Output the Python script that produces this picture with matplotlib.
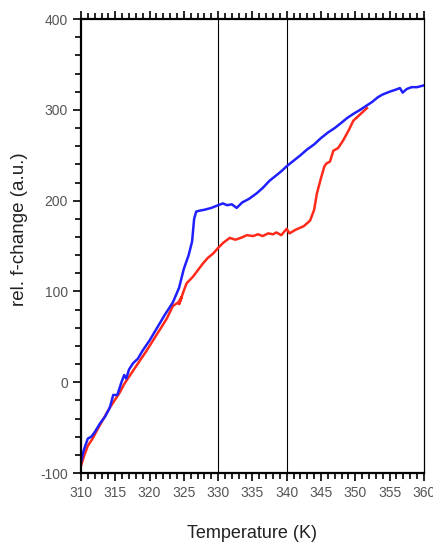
import numpy as np
import matplotlib.pyplot as plt

plt.rcParams['font.family'] = ['Liberation Sans', 'DejaVu Sans']
plt.rcParams['axes.unicode_minus'] = False

# blue curve (heating)
blue_T = [310.0, 310.4, 311.0, 311.5, 312.0, 312.8, 313.5, 314.2, 314.7, 315.3, 315.9, 316.3, 316.6,
          317.0, 317.6, 318.3, 319.0, 320.0, 321.1, 322.2, 323.4, 324.3, 325.0, 325.7, 326.2,
          326.5, 326.8, 327.3, 328.0, 329.0, 330.0, 330.7, 331.3, 332.0, 332.7, 333.5, 334.5,
          335.6, 336.5, 337.5, 338.5, 339.3, 340.0, 341.0, 342.0, 342.9, 344.0, 345.0, 346.0,
          347.0, 348.0, 348.8, 349.8, 350.7, 351.7, 352.5, 353.3, 354.0, 355.0, 355.8, 356.5,
          356.9, 357.5, 358.2, 359.0, 360.0]
blue_y = [-88, -75, -62, -60, -55, -45, -38, -28, -14, -14, 0, 8, 4,
          14, 21, 26, 35, 46, 60, 74, 88, 104, 125, 140, 155,
          180, 188, 189, 190, 192, 195, 197, 195, 196, 192, 198, 202,
          208, 214, 222, 228, 233, 238, 244, 250, 256, 262, 269, 275,
          280, 286, 291, 296, 300, 305, 309, 314, 317, 320, 322, 324,
          319, 323, 325, 325, 327]

# red curve (cooling)
red_T = [310.0, 310.5, 311.0, 311.7, 312.4, 313.0, 313.6, 314.2, 314.9, 315.6, 316.3, 317.0,
         317.8, 318.6, 319.5, 320.5, 321.5, 322.5, 323.4, 324.2, 324.7, 324.3, 325.0, 325.4,
         326.3, 327.3, 327.8, 328.5, 329.3, 330.0, 330.8, 331.7, 332.5, 333.3, 334.2, 335.1,
         335.8, 336.5, 337.3, 338.0, 338.5, 339.2, 340.0, 340.4, 341.3, 342.5, 343.4, 344.0,
         344.4, 345.0, 345.5, 345.8, 346.3, 346.8, 347.5, 348.2, 349.0, 349.7, 350.7, 351.7]
red_y = [-92, -80, -70, -62, -52, -44, -36, -28, -20, -12, -2, 6,
         15, 24, 34, 46, 58, 70, 84, 88, 94, 86, 101, 109,
         116, 126, 131, 137, 142, 148, 154, 159, 157, 159, 162, 161,
         163, 161, 164, 163, 165, 162, 169, 164, 168, 172, 178, 190,
         208, 225, 238, 241, 243, 255, 258, 266, 277, 288, 295, 302]

fig = plt.figure(figsize=(4.33, 5.45), dpi=100)
ax = fig.add_axes([0.187, 0.132, 0.792, 0.833])

ax.axvline(330, color='black', lw=0.8)
ax.axvline(340, color='black', lw=0.8)
ax.plot(red_T, red_y, color='#ff2a1a', lw=1.8)
ax.plot(blue_T, blue_y, color='#2020ff', lw=1.8)

ax.set_xlim(310, 360)
ax.set_ylim(-100, 400)
ax.set_xticks(np.arange(310, 361, 5))
ax.set_xticks(np.arange(310, 361, 1), minor=True)
ax.set_yticks(np.arange(-100, 401, 100))
ax.set_yticks(np.arange(-100, 401, 20), minor=True)

ax.tick_params(axis='x', which='both', direction='out', top=True, bottom=True,
               labelsize=10, labelcolor='#555555', width=1.2)
ax.tick_params(axis='x', which='major', length=6)
ax.tick_params(axis='x', which='minor', length=4)
ax.tick_params(axis='y', which='both', direction='out', right=False,
               labelsize=10, labelcolor='#555555', width=1.2)
ax.tick_params(axis='y', which='major', length=6)
ax.tick_params(axis='y', which='minor', length=4)

for s in ['left', 'bottom', 'top']:
    ax.spines[s].set_linewidth(1.6)
ax.spines['right'].set_linewidth(0.9)

ax.set_xlabel('Temperature (K)', fontsize=13, color='#222222', labelpad=18)
ax.set_ylabel('rel. f-change (a.u.)', fontsize=13.5, color='#222222')
ax.yaxis.set_label_coords(-0.155, 0.537)

fig.savefig('out.png', dpi=100)
